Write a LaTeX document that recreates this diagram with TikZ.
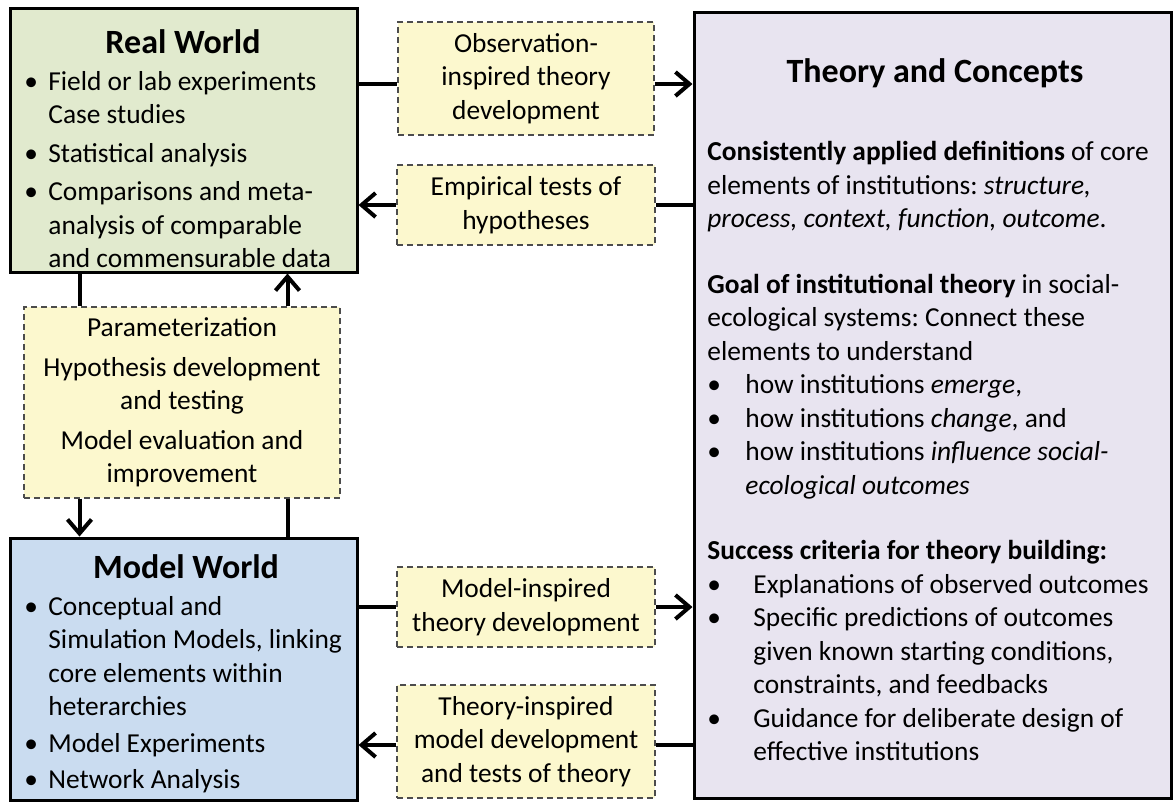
\documentclass[tikz,border=0pt]{standalone}
\usepackage{fontspec}
\setmainfont{Carlito}
\usetikzlibrary{arrows.meta}
\frenchspacing

\definecolor{realfill}{RGB}{225,234,206}
\definecolor{modelfill}{RGB}{202,220,240}
\definecolor{theoryfill}{RGB}{232,228,240}
\definecolor{notefill}{RGB}{252,248,206}

\newcommand{\bul}[1]{\makebox[12pt][l]{\textbullet}#1}
\newcommand{\gbul}[1]{\makebox[19pt][l]{\textbullet}#1}
\newcommand{\sbul}[1]{\makebox[23pt][l]{\textbullet}#1}

\begin{document}
\begin{tikzpicture}[x=0.5pt,y=-0.5pt]
    \tikzstyle{every node}+=[inner sep=0pt, font=\fontsize{13.7}{16.75}\selectfont]
    \tikzstyle{world}=[draw=black, line width=1.5pt, rectangle]
    \tikzstyle{note}=[draw=black!70, dash pattern=on 3pt off 2pt, fill=notefill, line width=0.6pt, align=center]
    \tikzstyle{conn}=[line width=2pt]
    \tikzstyle{arr}=[line width=2pt, -{Straight Barb[length=7pt,width=12pt]}]
    \tikzstyle{head}=[font=\fontsize{17}{20}\selectfont\bfseries]
    \useasboundingbox (0,0) rectangle (1174,804);
    % the three worlds
    \node [world, fill=realfill, minimum width=173.5pt, minimum height=132pt] (real) at (183.5,140) {};
    \node [world, fill=modelfill, minimum width=173.5pt, minimum height=131pt] (model) at (183.5,669) {};
    \node [world, fill=theoryfill, minimum width=238.5pt, minimum height=393pt] (theory) at (932.5,405) {};
    \node [head] (realtitle) at (183,42) {Real World};
    \node [head] (modeltitle) at (186,567) {Model World};
    \node [head] (theorytitle) at (935,73) {Theory and Concepts};
    \node [anchor=north west, align=left] (realbody) at (24,71) {%
        \bul{Field or lab experiments}\\
        \hspace*{12pt}Case studies\\[2.5pt]
        \bul{Statistical analysis}\\[2.5pt]
        \bul{Comparisons and meta-}\\
        \hspace*{12pt}analysis of comparable\\
        \hspace*{12pt}and commensurable data};
    \node [anchor=north west, align=left] (modelbody) at (24,596) {%
        \bul{Conceptual and}\\
        \hspace*{12pt}Simulation Models, linking\\
        \hspace*{12pt}core elements within\\
        \hspace*{12pt}heterarchies\\[1.5pt]
        \bul{Model Experiments}\\[1.5pt]
        \bul{Network Analysis}};
    \node [anchor=north west, align=left] (theorybody) at (707,141) {%
        \textbf{Consistently applied definitions} of core\\
        elements of institutions: \textit{structure,}\\
        \textit{process, context, function, outcome}.\\[16pt]
        \textbf{Goal of institutional theory} in social-\\
        ecological systems: Connect these\\
        elements to understand\\
        \gbul{how institutions \textit{emerge},}\\
        \gbul{how institutions \textit{change}, and}\\
        \gbul{how institutions \textit{influence social-}}\\
        \hspace*{19pt}\textit{ecological outcomes}\\[16pt]
        \textbf{Success criteria for theory building:}\\
        \sbul{Explanations of observed outcomes}\\
        \sbul{Specific predictions of outcomes}\\
        \hspace*{23pt}given known starting conditions,\\
        \hspace*{23pt}constraints, and feedbacks\\
        \sbul{Guidance for deliberate design of}\\
        \hspace*{23pt}effective institutions};
    % dashed notes
    \node [note, minimum width=128pt, minimum height=56.5pt] (obs) at (526,78.5) {Observation-\\inspired theory\\development};
    \node [note, minimum width=129pt, minimum height=40pt] (emp) at (526,205) {Empirical tests of\\hypotheses};
    \node [note, minimum width=158pt, minimum height=95.5pt] (param) at (182,402.5) {Parameterization\\[3pt]Hypothesis development\\and testing\\[3pt]Model evaluation and\\improvement};
    \node [note, minimum width=129pt, minimum height=40pt] (modins) at (526,607) {Model-inspired\\theory development};
    \node [note, minimum width=129pt, minimum height=56.5pt] (theoins) at (526,741.5) {Theory-inspired\\model development\\and tests of theory};
    % connectors
    \draw [conn] (real.east |- 0,84) -- (obs.west |- 0,84);
    \draw [arr] (obs.east |- 0,84) -- (theory.west |- 0,84);
    \draw [conn] (theory.west |- emp.east) -- (emp.east);
    \draw [arr] (emp.west) -- (real.east |- emp.west);
    \draw [conn] ([xshift=-52pt]real.south) -- ([xshift=-52pt]real.south |- param.north);
    \draw [arr] ([xshift=52pt]real.south |- param.north) -- ([xshift=52pt]real.south);
    \draw [arr] ([xshift=-52pt]model.north |- param.south) -- ([xshift=-52pt]model.north);
    \draw [conn] ([xshift=52pt]model.north) -- ([xshift=52pt]model.north |- param.south);
    \draw [conn] (model.east |- modins.west) -- (modins.west);
    \draw [arr] (modins.east) -- (theory.west |- modins.east);
    \draw [conn] (theory.west |- 0,745) -- (theoins.east |- 0,745);
    \draw [arr] (theoins.west |- 0,745) -- (model.east |- 0,745);
\end{tikzpicture}
\end{document}
